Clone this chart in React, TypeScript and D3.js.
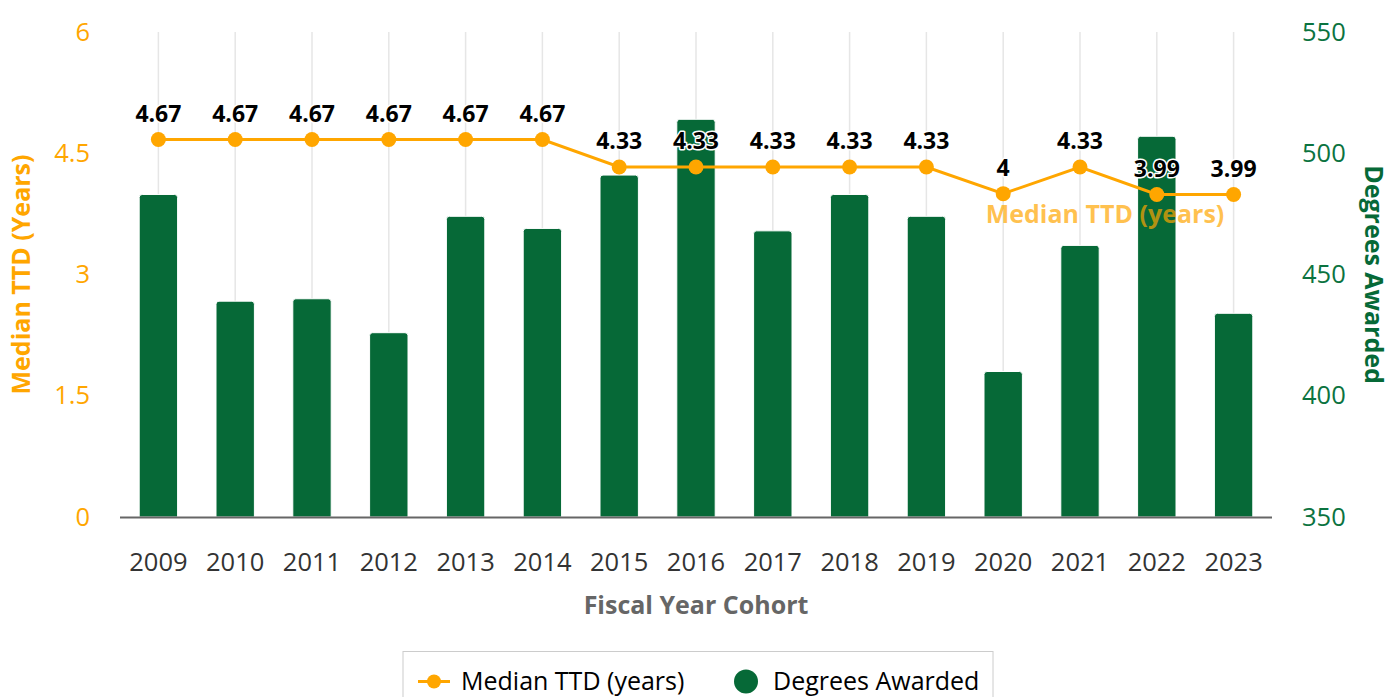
import React from "react";
import * as d3 from "d3";

const years = ["2009","2010","2011","2012","2013","2014","2015","2016","2017","2018","2019","2020","2021","2022","2023"];
const medianTTD = [4.67,4.67,4.67,4.67,4.67,4.67,4.33,4.33,4.33,4.33,4.33,4,4.33,3.99,3.99];
const degrees = [483,439,440,426,474,469,491,514,468,483,474,410,462,507,434];
const leftTicks = [0,1.5,3,4.5,6];
const rightTicks = [350,400,450,500,550];

const W = 1391, H = 697;
const plotL = 120, plotR = 1272, plotT = 32, plotB = 517;
const ORANGE = "#ffa600";
const GREEN = "#066937";
const FONT = "'Open Sans', sans-serif";

export default function App() {
  const x = d3.scaleBand<string>().domain(years).range([plotL, plotR]).paddingInner(0.5).paddingOuter(0.25);
  const yL = d3.scaleLinear().domain([0, 6]).range([plotB, plotT]);
  const yR = d3.scaleLinear().domain([350, 550]).range([plotB, plotT]);
  const cx = (d: string) => (x(d) as number) + x.bandwidth() / 2;
  const line = d3.line<number>().x((_, i) => cx(years[i])).y((v) => yL(v));
  const r = 3;
  const barPath = (d: string, v: number) => {
    const x0 = x(d) as number, w = x.bandwidth(), y0 = yR(v), yb = plotB;
    return `M${x0},${yb}V${y0 + r}Q${x0},${y0} ${x0 + r},${y0}H${x0 + w - r}Q${x0 + w},${y0} ${x0 + w},${y0 + r}V${yb}Z`;
  };
  return (
    <svg width={W} height={H} style={{ position: "absolute", left: 0, top: 0, fontFamily: FONT }}>
      <rect x={0} y={0} width={W} height={H} fill="#fff" />
      {years.map((d) => (
        <line key={"g" + d} x1={cx(d)} x2={cx(d)} y1={plotT} y2={plotB} stroke="#e6e6e6" strokeWidth={1.5} />
      ))}
      {years.map((d, i) => (
        <path key={"b" + d} d={barPath(d, degrees[i])} fill={GREEN} stroke="#ffffff" strokeWidth={1} />
      ))}
      <line x1={plotL} x2={plotR} y1={plotB + 0.5} y2={plotB + 0.5} stroke="#666" strokeWidth={2} />
      {leftTicks.map((t) => (
        <text key={"l" + t} x={90} y={yL(t)} dy="0.34em" textAnchor="end" fontSize={25.5} fill={ORANGE}>{t}</text>
      ))}
      {rightTicks.map((t) => (
        <text key={"r" + t} x={1302} y={yR(t)} dy="0.34em" textAnchor="start" fontSize={25.5} fill="#0b7340">{t}</text>
      ))}
      {years.map((d) => (
        <text key={"x" + d} x={cx(d)} y={571} textAnchor="middle" fontSize={25.5} fill="#333">{d}</text>
      ))}
      <text x={696} y={614} textAnchor="middle" fontSize={25} fontWeight="bold" fill="#666">Fiscal Year Cohort</text>
      <text transform={`translate(30,${(plotT + plotB) / 2}) rotate(-90)`} textAnchor="middle" fontSize={25} fontWeight="bold" fill={ORANGE}>Median TTD (Years)</text>
      <text transform={`translate(1365,${(plotT + plotB) / 2}) rotate(90)`} textAnchor="middle" fontSize={25} fontWeight="bold" fill={GREEN}>Degrees Awarded</text>
      <path d={line(medianTTD) || ""} fill="none" stroke={ORANGE} strokeWidth={3} />
      {medianTTD.map((v, i) => (
        <circle key={"c" + i} cx={cx(years[i])} cy={yL(v)} r={7.5} fill={ORANGE} />
      ))}
      {medianTTD.map((v, i) => (
        <text key={"t" + i} x={cx(years[i])} y={yL(v) - 17.5} textAnchor="middle" fontSize={23} fontWeight="bold" fill="#000" stroke="#fff" strokeWidth={3} strokeLinejoin="round" style={{ paintOrder: "stroke" }}>{v}</text>
      ))}
      <text x={1105} y={223} textAnchor="middle" fontSize={25} fontWeight="bold" fill={ORANGE} fillOpacity={0.7}>Median TTD (years)</text>
      <rect x={403} y={651.5} width={590} height={60} fill="#fff" stroke="#ccc" strokeWidth={1} />
      <line x1={418} x2={450} y1={681.5} y2={681.5} stroke={ORANGE} strokeWidth={3} />
      <circle cx={434} cy={681.5} r={7} fill={ORANGE} />
      <text x={461} y={690} fontSize={25} fill="#000">Median TTD (years)</text>
      <circle cx={746} cy={681.5} r={12} fill={GREEN} />
      <text x={773} y={690} fontSize={25} fill="#000">Degrees Awarded</text>
    </svg>
  );
}
